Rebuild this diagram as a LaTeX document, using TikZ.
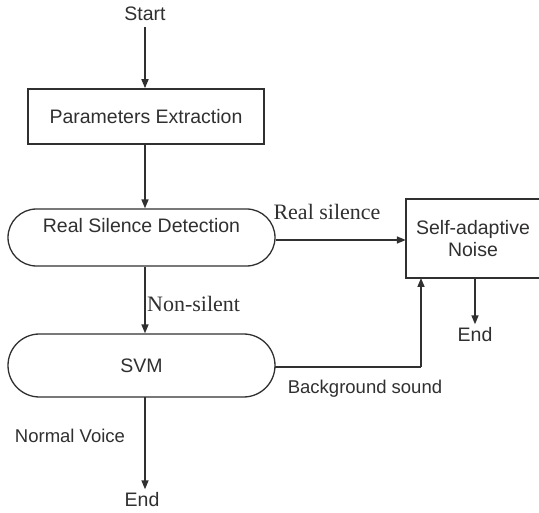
\documentclass[tikz,border=0pt]{standalone}
\usepackage{fontspec}
\setmainfont{Liberation Sans}
\newfontfamily\serifnote{Liberation Serif}
\usetikzlibrary{arrows.meta,shapes.misc,calc}
\definecolor{ink}{HTML}{303030}
\begin{document}
\begin{tikzpicture}[x=1pt,y=-1pt,
  every node/.style={text=ink, font=\fontsize{19.5}{22}\selectfont},
  boxnode/.style={draw=ink, line width=1.6pt, rectangle, inner sep=0pt},
  stadium/.style={draw=ink, line width=1.3pt, rounded rectangle, inner sep=0pt, minimum width=267pt},
  conn/.style={draw=ink, line width=1.6pt, -{Triangle[length=9pt,width=7pt]}},
  plain/.style={draw=ink, line width=1.6pt},
  seriflabel/.style={font=\serifnote\fontsize{22}{24}\selectfont},
  smalllabel/.style={font=\fontsize{18.5}{21}\selectfont}]
\clip (0,0) rectangle (539,513);
\fill[white] (0,0) rectangle (539,513);
\node (start) at (145,14) {Start};
\node[boxnode, minimum width=236pt, minimum height=55pt] (pe) at (146,116.5) {Parameters Extraction};
\node[stadium, minimum height=57pt] (rsd) at (141.5,237.5) {\raisebox{9.5pt}[0.7em][0.2em]{Real Silence Detection}};
\node[stadium, minimum height=63pt] (svm) at (141.5,365.5) {SVM};
\node[inner sep=0pt, minimum width=134pt, minimum height=79pt, align=center] (sa) at (473,238.5) {Self-adaptive\\Noise};
\draw[plain, line join=miter] ($(sa.north east)+(20,0)$) -- (sa.north west) -- (sa.south west) -- ($(sa.south east)+(20,0)$);
\node (end1) at (142,500) {End};
\node (end2) at (475,335) {End};
\coordinate (a1) at (145,27);
\coordinate (svmout) at (275,367);
\coordinate (corner) at (421,367);
\coordinate (sabot) at (421,278);
\coordinate (sadown) at (475,278);
\coordinate (svmdown) at (145,397);
\draw[conn] (a1) -- (pe.north -| a1);
\draw[conn] (pe.south -| a1) -- (rsd.north -| a1);
\draw[conn] (rsd.east |- 0,240) -- (sa.west |- 0,240);
\draw[conn] (rsd.south -| a1) -- (svm.north -| a1);
\draw[plain] (svmout) -- (corner);
\draw[conn] (corner) -- (sabot);
\draw[conn] (sadown) -- (end2.north);
\draw[conn] (svmdown) -- (end1.north -| svmdown);
\node[seriflabel] (lrs) at (327,212) {Real silence};
\node[seriflabel, anchor=west, inner sep=0pt] (lns) at (147,304) {Non-silent};
\node[smalllabel] (lbs) at (365,389) {Background sound};
\node[smalllabel] (lnv) at (70,436) {Normal Voice};
\end{tikzpicture}
\end{document}
